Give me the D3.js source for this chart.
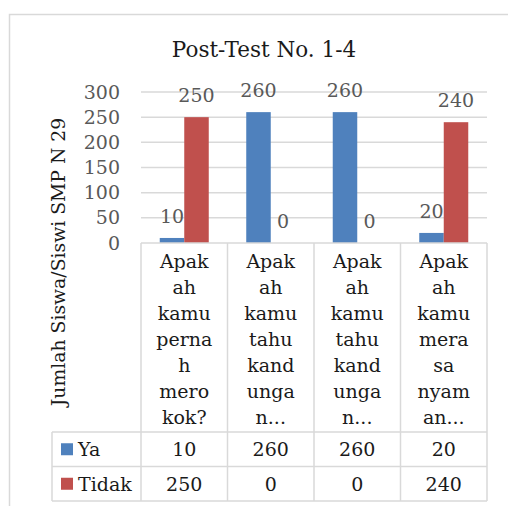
<!DOCTYPE html>
<html>
<head>
<meta charset="utf-8">
<script src="https://cdn.jsdelivr.net/npm/d3@7"></script>
<style>
  body { margin: 0; background: #fff; }
  text { font-family: "DejaVu Serif", serif; }
</style>
</head>
<body>
<div id="chart"></div>
<script>
// Data
var categories = ["q1", "q2", "q3", "q4"];
var categoryLines = [
  ["Apak", "ah", "kamu", "perna", "h", "mero", "kok?"],
  ["Apak", "ah", "kamu", "tahu", "kand", "unga", "n..."],
  ["Apak", "ah", "kamu", "tahu", "kand", "unga", "n..."],
  ["Apak", "ah", "kamu", "mera", "sa", "nyam", "an..."]
];
var seriesNames = ["Ya", "Tidak"];
var yaValues = [10, 260, 260, 20];
var tidakValues = [250, 0, 0, 240];
var yTicks = [0, 50, 100, 150, 200, 250, 300];
var colors = ["#4f81bd", "#c0504d"];

var width = 508, height = 506;
var plotLeft = 141, plotRight = 487, plotTop = 92, plotBottom = 243;
var tableLeft = 52;
var headerBottom = 432, rowH = 34.5;
var gridColor = "#d9d9d9";
var textColor = "#595959";
var fs = 19;

var svg = d3.select("#chart").append("svg")
  .attr("width", width)
  .attr("height", height);

// outer frame
svg.append("path")
  .attr("d", "M9.5," + height + " V14.5 H" + width)
  .attr("fill", "none")
  .attr("stroke", gridColor)
  .attr("stroke-width", 1.5);

// title
svg.append("text")
  .attr("x", 264).attr("y", 57)
  .attr("text-anchor", "middle")
  .attr("font-size", 21.5)
  .attr("fill", "#1a1a1a")
  .text("Post-Test No. 1-4");

var x0 = d3.scaleBand().domain(categories).range([plotLeft, plotRight]);
var x1 = d3.scaleBand().domain(seriesNames).range([0, x0.bandwidth()]).paddingOuter(0.765);
var y = d3.scaleLinear().domain([0, 300]).range([plotBottom, plotTop]);

// gridlines
svg.append("g").selectAll("line").data(yTicks.filter(function(d) { return d > 0; }))
  .enter().append("line")
  .attr("x1", plotLeft).attr("x2", plotRight)
  .attr("y1", function(d) { return y(d); })
  .attr("y2", function(d) { return y(d); })
  .attr("stroke", gridColor)
  .attr("stroke-width", 1.5);

// y axis labels
var yAxis = d3.axisLeft(y).tickValues(yTicks).tickSize(0).tickPadding(21);
var yAxisG = svg.append("g").attr("transform", "translate(" + plotLeft + ",0)").call(yAxis);
yAxisG.select(".domain").remove();
yAxisG.selectAll("text")
  .attr("font-family", "DejaVu Serif, serif")
  .attr("font-size", fs)
  .attr("fill", textColor);

// y axis title
svg.append("text")
  .attr("transform", "translate(65,262) rotate(-90)")
  .attr("text-anchor", "middle")
  .attr("font-size", 18.8)
  .attr("fill", "#1a1a1a")
  .text("Jumlah Siswa/Siswi SMP N 29");

// bars
var rows = categories.map(function(c, i) {
  return { cat: c, values: [{ s: "Ya", v: yaValues[i] }, { s: "Tidak", v: tidakValues[i] }] };
});

var groups = svg.append("g").selectAll("g").data(rows).enter().append("g")
  .attr("transform", function(d) { return "translate(" + x0(d.cat) + ",0)"; });

groups.selectAll("rect").data(function(d) { return d.values; })
  .enter().append("rect")
  .attr("x", function(d) { return x1(d.s); })
  .attr("width", x1.bandwidth())
  .attr("y", function(d) { return y(d.v); })
  .attr("height", function(d) { return y(0) - y(d.v); })
  .attr("fill", function(d, i) { return colors[i]; });

groups.selectAll("text.lbl").data(function(d) { return d.values; })
  .enter().append("text")
  .attr("class", "lbl")
  .attr("x", function(d) { return x1(d.s) + x1.bandwidth() / 2; })
  .attr("y", function(d) { return y(d.v) - 15; })
  .attr("text-anchor", "middle")
  .attr("font-size", fs)
  .attr("fill", textColor)
  .text(function(d) { return d.v; });

// data table
var tbl = svg.append("g").attr("stroke", gridColor).attr("stroke-width", 1.5);
tbl.append("line").attr("x1", plotLeft).attr("x2", plotRight).attr("y1", plotBottom).attr("y2", plotBottom);
[headerBottom, headerBottom + rowH, headerBottom + 2 * rowH].forEach(function(yy) {
  tbl.append("line").attr("x1", tableLeft).attr("x2", plotRight).attr("y1", yy).attr("y2", yy);
});
tbl.append("line").attr("x1", tableLeft).attr("x2", tableLeft)
  .attr("y1", headerBottom).attr("y2", headerBottom + 2 * rowH);
categories.forEach(function(c) {
  tbl.append("line").attr("x1", x0(c)).attr("x2", x0(c))
    .attr("y1", plotBottom).attr("y2", headerBottom + 2 * rowH);
});
tbl.append("line").attr("x1", plotRight).attr("x2", plotRight)
  .attr("y1", plotBottom).attr("y2", headerBottom + 2 * rowH);

// category labels
categories.forEach(function(c, i) {
  var t = svg.append("text")
    .attr("text-anchor", "middle")
    .attr("font-size", fs)
    .attr("fill", "#1a1a1a");
  categoryLines[i].forEach(function(line, j) {
    t.append("tspan")
      .attr("x", x0(c) + x0.bandwidth() / 2)
      .attr("y", 268 + j * 26)
      .text(line);
  });
});

// table rows
var seriesValues = [yaValues, tidakValues];
seriesNames.forEach(function(s, k) {
  var cy = headerBottom + k * rowH + rowH / 2;
  svg.append("rect")
    .attr("x", 61).attr("y", cy - 6)
    .attr("width", 12).attr("height", 12)
    .attr("fill", colors[k]);
  svg.append("text")
    .attr("x", 78).attr("y", cy + 7)
    .attr("font-size", fs)
    .attr("fill", "#1a1a1a")
    .text(s);
  categories.forEach(function(c, i) {
    svg.append("text")
      .attr("x", x0(c) + x0.bandwidth() / 2)
      .attr("y", cy + 7)
      .attr("text-anchor", "middle")
      .attr("font-size", fs)
      .attr("fill", "#1a1a1a")
      .text(seriesValues[k][i]);
  });
});
</script>
</body>
</html>
